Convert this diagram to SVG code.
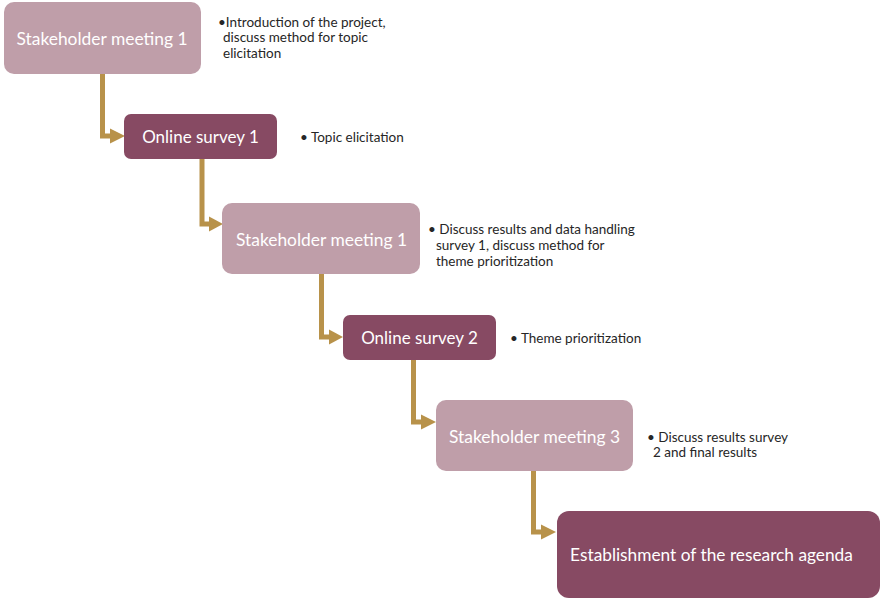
<svg xmlns="http://www.w3.org/2000/svg" width="882" height="599" viewBox="0 0 882 599">
<style>
.light{fill:#BF9EA9;}
.dark{fill:#874A63;}
.bt{font-family:Lato,"Open Sans",sans-serif;fill:#FFFFFF;text-anchor:middle;}
.note{font-family:Lato,"Open Sans",sans-serif;fill:#262626;font-size:13.5px;}
.conn{fill:none;stroke:#B8924A;stroke-width:5;}
.head{fill:#B8924A;}
</style>
<rect width="882" height="599" fill="#FFFFFF"/>
<g id="connectors">
<path class="conn" d="M102.5,74 V136 H111"/>
<polygon class="head" points="110,128.5 125,136 110,143.5"/>
<path class="conn" d="M202,159 V224 H210"/>
<polygon class="head" points="209,216.5 223,224 209,231.5"/>
<path class="conn" d="M321.5,274 V337 H330"/>
<polygon class="head" points="329,329.5 343,337 329,344.5"/>
<path class="conn" d="M413.5,360 V422 H422"/>
<polygon class="head" points="421,414.5 436,422 421,429.5"/>
<path class="conn" d="M533.5,471 V532 H542"/>
<polygon class="head" points="541,524.5 556,532 541,539.5"/>
</g>
<g id="node1">
<rect class="light" x="4" y="2" width="197" height="72" rx="10"/>
<text class="bt" x="102" y="45" font-size="17.4">Stakeholder meeting 1</text>
</g>
<g id="note1">
<text class="note" x="218" y="27">•Introduction of the project,</text>
<text class="note" x="223" y="42">discuss method for topic</text>
<text class="note" x="223" y="58">elicitation</text>
</g>
<g id="node2">
<rect class="dark" x="124" y="114" width="153" height="45" rx="7"/>
<text class="bt" x="200.5" y="143" font-size="17">Online survey 1</text>
</g>
<g id="note2">
<text class="note" x="300" y="142">• Topic elicitation</text>
</g>
<g id="node3">
<rect class="light" x="222" y="203" width="198" height="71" rx="10"/>
<text class="bt" x="321.5" y="246" font-size="17.4">Stakeholder meeting 1</text>
</g>
<g id="note3">
<text class="note" x="428" y="234">• Discuss results and data handling</text>
<text class="note" x="436" y="250">survey 1, discuss method for</text>
<text class="note" x="436" y="266">theme prioritization</text>
</g>
<g id="node4">
<rect class="dark" x="343" y="315" width="153" height="45" rx="7"/>
<text class="bt" x="419.5" y="344" font-size="17">Online survey 2</text>
</g>
<g id="note4">
<text class="note" x="510" y="343">• Theme prioritization</text>
</g>
<g id="node5">
<rect class="light" x="436" y="400" width="197" height="71" rx="10"/>
<text class="bt" x="534.5" y="443" font-size="17.4">Stakeholder meeting 3</text>
</g>
<g id="note5">
<text class="note" x="647" y="442" font-size="12.7">• Discuss results survey</text>
<text class="note" x="653" y="457" font-size="12.7">2 and final results</text>
</g>
<g id="node6">
<rect class="dark" x="557" y="511" width="323" height="87" rx="12"/>
<text class="bt" x="711.5" y="561" font-size="17.3">Establishment of the research agenda</text>
</g>
</svg>
